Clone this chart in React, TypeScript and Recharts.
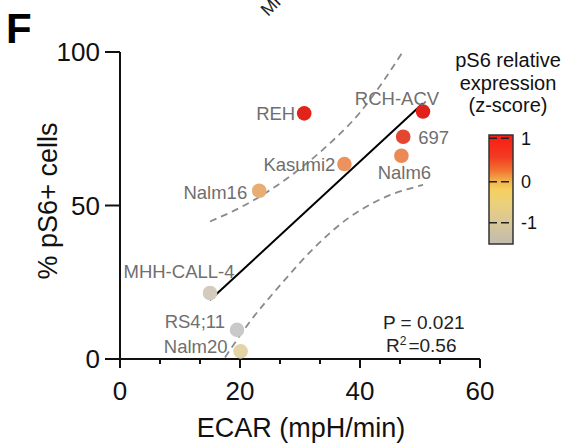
import { ScatterChart, Scatter, XAxis, YAxis } from "recharts";

// cell lines, ECAR (x) vs % pS6+ cells (y)
const cellLines = ["REH", "RCH-ACV", "697", "Nalm6", "Kasumi2", "Nalm16", "MHH-CALL-4", "RS4;11", "Nalm20"];
const ecar = [30.7, 50.5, 47.2, 46.9, 37.4, 23.2, 15.0, 19.5, 20.1];
const ps6Pct = [80.0, 80.6, 72.4, 66.2, 63.5, 54.8, 21.5, 9.5, 2.5];

// regression line and 95% CI bands
const fitX = [15, 50.5];
const fitY = [19.2, 83.3];
const upperX = [15, 20, 25, 30, 35, 40, 44, 47.1];
const upperY = [44.8, 49.3, 55, 62, 70.3, 80.3, 90.8, 100];
const lowerX = [17.5, 21.4, 26.9, 32.5, 38, 43.6, 50.5];
const lowerY = [0.5, 11.5, 24.5, 36.5, 45.8, 52.2, 56.7];

const xMajor = [0, 20, 40, 60];
const xMinor = [6.67, 13.33, 26.67, 33.33, 46.67, 53.33];
const yTicks = [0, 50, 100];
const zTicks = ["1", "0", "-1"];

const pairs = (xs: number[], ys: number[]) => xs.map((x, i) => ({ x, y: ys[i] }));
const points = cellLines.map((name, i) => ({ name, x: ecar[i], y: ps6Pct[i] }));

const FONT = "Liberation Sans, Arial, Helvetica, sans-serif";

const DOT_COLOR: Record<string, string> = {
  REH: "#e2231a",
  "RCH-ACV": "#e1221a",
  "697": "#e4472f",
  Nalm6: "#ec8a57",
  Kasumi2: "#ec925f",
  Nalm16: "#e8ad72",
  "MHH-CALL-4": "#d3cbbb",
  "RS4;11": "#c9c9c9",
  Nalm20: "#e3d4a6",
};

const LABEL_AT: Record<string, { dx: number; dy: number; anchor: "start" | "middle" | "end" }> = {
  REH: { dx: -9, dy: 7, anchor: "end" },
  "RCH-ACV": { dx: -26, dy: -7, anchor: "middle" },
  "697": { dx: 15, dy: 7, anchor: "start" },
  Nalm6: { dx: 3, dy: 23.5, anchor: "middle" },
  Kasumi2: { dx: -9, dy: 7.3, anchor: "end" },
  Nalm16: { dx: -12, dy: 8.5, anchor: "end" },
  "MHH-CALL-4": { dx: -31, dy: -14.5, anchor: "middle" },
  "RS4;11": { dx: -12, dy: -1.5, anchor: "end" },
  Nalm20: { dx: -13, dy: 2, anchor: "end" },
};

function CellDot(props: any) {
  const { cx, cy, payload } = props;
  const lab = LABEL_AT[payload.name];
  return (
    <g>
      <circle cx={cx} cy={cy} r={7.3} fill={DOT_COLOR[payload.name]} />
      <text x={cx + lab.dx} y={cy + lab.dy} textAnchor={lab.anchor} fontSize={18.5} fontFamily={FONT} fill="#6f6f6f">
        {payload.name}
      </text>
    </g>
  );
}

function EcarTick({ x, y, payload }: any) {
  const major = xMajor.includes(payload.value);
  return (
    <g>
      <line x1={x} x2={x} y1={y} y2={y + (major ? 9 : 5)} stroke="#111" strokeWidth={2} />
      {major && (
        <text x={x} y={y + 41} textAnchor="middle" fontSize={26} fontFamily={FONT} fill="#111">
          {payload.value}
        </text>
      )}
    </g>
  );
}

const noDot = () => <g />;

export default function App() {
  return (
    <div style={{ position: "absolute", left: 0, top: 0, width: 565, height: 446, background: "#fff" }}>
      <ScatterChart width={565} height={446} margin={{ top: 52, right: 85, bottom: 47, left: 40 }}>
        <XAxis
          type="number"
          dataKey="x"
          domain={[0, 60]}
          ticks={[...xMajor, ...xMinor].sort((a, b) => a - b)}
          interval={0}
          height={40}
          tickSize={0}
          tickMargin={0}
          tickLine={false}
          tick={<EcarTick />}
          axisLine={{ stroke: "#111", strokeWidth: 2 }}
        />
        <YAxis
          type="number"
          dataKey="y"
          domain={[0, 100]}
          ticks={yTicks}
          interval={0}
          width={80}
          tickSize={15}
          tickMargin={5}
          tick={{ fontSize: 26, fontFamily: FONT, fill: "#111" }}
          tickLine={{ stroke: "#111", strokeWidth: 2 }}
          axisLine={{ stroke: "#111", strokeWidth: 2 }}
        />
        <Scatter
          data={pairs(upperX, upperY)}
          line={{ stroke: "#8a8a8a", strokeWidth: 1.8, strokeDasharray: "7 5" }}
          lineJointType="monotoneX"
          shape={noDot}
          legendType="none"
          isAnimationActive={false}
        />
        <Scatter
          data={pairs(lowerX, lowerY)}
          line={{ stroke: "#8a8a8a", strokeWidth: 1.8, strokeDasharray: "7 5" }}
          lineJointType="monotoneX"
          shape={noDot}
          legendType="none"
          isAnimationActive={false}
        />
        <Scatter
          data={pairs(fitX, fitY)}
          line={{ stroke: "#000", strokeWidth: 2 }}
          shape={noDot}
          legendType="none"
          isAnimationActive={false}
        />
        <Scatter data={points} shape={(p: any) => <CellDot {...p} />} isAnimationActive={false} />
      </ScatterChart>

      <svg width={565} height={446} style={{ position: "absolute", left: 0, top: 0, pointerEvents: "none" }} fontFamily={FONT}>
        <defs>
          <linearGradient id="zscale" x1="0" y1="0" x2="0" y2="1">
            <stop offset="0" stopColor="#fa1c12" />
            <stop offset="0.2" stopColor="#f33a22" />
            <stop offset="0.32" stopColor="#f2702f" />
            <stop offset="0.42" stopColor="#f2b04c" />
            <stop offset="0.5" stopColor="#f5cf5e" />
            <stop offset="0.62" stopColor="#ecd07a" />
            <stop offset="0.8" stopColor="#d9c797" />
            <stop offset="1" stopColor="#c0bcae" />
          </linearGradient>
        </defs>

        <text x={6} y={43} fontSize={42} fontWeight="bold" fill="#000">F</text>
        <text x={268} y={17} fontSize={18} fill="#222" transform="rotate(-45 268 17)">MHH-CALL-4</text>

        <text transform="translate(57,201) rotate(-90)" textAnchor="middle" fontSize={27} fill="#111">
          % pS6+ cells
        </text>
        <text x={301} y={437} textAnchor="middle" fontSize={27} fill="#111">ECAR (mpH/min)</text>

        <text x={383} y={329} fontSize={19} fill="#222">P = 0.021</text>
        <text x={386} y={352} fontSize={19} fill="#222">
          R<tspan fontSize={12} dy={-7}>2</tspan>
          <tspan fontSize={19} dy={7} dx={2}>=0.56</tspan>
        </text>

        <text x={508} y={67} textAnchor="middle" fontSize={20} fill="#111">pS6 relative</text>
        <text x={508} y={89.5} textAnchor="middle" fontSize={20} fill="#111">expression</text>
        <text x={508} y={112} textAnchor="middle" fontSize={20} fill="#111">(z-score)</text>

        <rect x={489} y={135} width={24} height={109} fill="url(#zscale)" stroke="#333" strokeWidth={1.5} />
        {[138.3, 181.7, 222.7].map((ty, i) => (
          <g key={i}>
            <line x1={489} x2={513} y1={ty} y2={ty} stroke="#222" strokeWidth={1.5} strokeDasharray="8 4" />
            <text x={521} y={ty + 6.5} fontSize={18} fill="#111">{zTicks[i]}</text>
          </g>
        ))}
      </svg>
    </div>
  );
}
